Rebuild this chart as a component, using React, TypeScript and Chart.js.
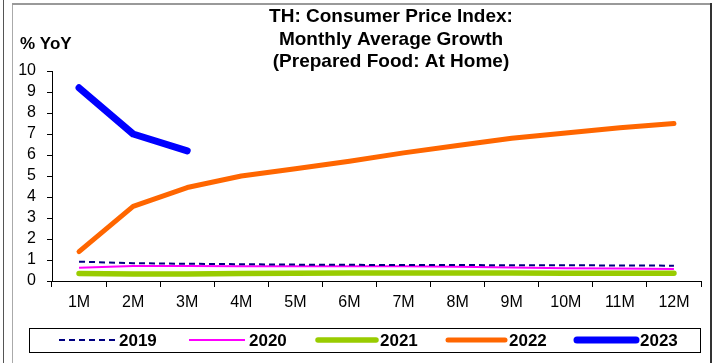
import React, { useEffect, useRef } from "react";
import { Chart, registerables } from "chart.js";

Chart.register(...registerables);

const categories = ["1M", "2M", "3M", "4M", "5M", "6M", "7M", "8M", "9M", "10M", "11M", "12M"];
const y2019 = [0.92, 0.85, 0.82, 0.8, 0.78, 0.77, 0.76, 0.76, 0.75, 0.75, 0.74, 0.73];
const y2020 = [0.63, 0.72, 0.72, 0.7, 0.7, 0.7, 0.7, 0.68, 0.64, 0.61, 0.59, 0.57];
const y2021 = [0.36, 0.33, 0.33, 0.36, 0.37, 0.38, 0.38, 0.38, 0.38, 0.37, 0.37, 0.37];
const y2022 = [1.4, 3.55, 4.45, 5.0, 5.35, 5.7, 6.1, 6.45, 6.8, 7.05, 7.3, 7.5];
const y2023 = [9.2, 7.0, 6.2];
const titleLines = ["TH: Consumer Price Index:", "Monthly Average Growth", "(Prepared Food: At Home)"];
const yAxisTitle = "% YoY";
const seriesNames = ["2019", "2020", "2021", "2022", "2023"];

const FONT = "'Liberation Sans', Arial, sans-serif";

const colors = ["#000080", "#FF00FF", "#99CC00", "#FF6600", "#0000FF"];
const widths = [2, 2, 5.5, 5, 7];
const dashes = [[6, 4], [], [], [], []];

const framePlugin = {
  id: "frame",
  beforeDraw(chart: any) {
    const ctx = chart.ctx;
    ctx.save();
    ctx.fillStyle = "#fff";
    ctx.fillRect(0, 0, chart.width, chart.height);
    ctx.lineWidth = 1;
    ctx.strokeStyle = "#555";
    ctx.beginPath();
    ctx.moveTo(3.5, 0);
    ctx.lineTo(3.5, 363);
    ctx.stroke();
    ctx.strokeStyle = "#aaa";
    ctx.beginPath();
    ctx.moveTo(12.5, 363);
    ctx.lineTo(12.5, 4);
    ctx.stroke();
    ctx.lineWidth = 2;
    ctx.strokeStyle = "#999";
    ctx.beginPath();
    ctx.moveTo(12, 4);
    ctx.lineTo(711, 4);
    ctx.stroke();
    ctx.strokeStyle = "#333";
    ctx.beginPath();
    ctx.moveTo(711, 3);
    ctx.lineTo(711, 363);
    ctx.stroke();

    // title
    ctx.fillStyle = "#000";
    ctx.textAlign = "center";
    ctx.textBaseline = "middle";
    ctx.font = `bold 19px ${FONT}`;
    titleLines.forEach((t, i) => ctx.fillText(t, 391, 17 + i * 22.5));
    ctx.textAlign = "left";
    ctx.font = `bold 17px ${FONT}`;
    ctx.fillText(yAxisTitle, 20, 44);

    // legend box
    ctx.lineWidth = 1;
    ctx.strokeStyle = "#000";
    ctx.strokeRect(29.5, 328.5, 671, 24);
    const xs = [[59, 115], [189, 245], [318, 376], [448, 505], [577, 636]];
    const ly = 340;
    seriesNames.forEach((n, i) => {
      ctx.save();
      ctx.strokeStyle = colors[i];
      ctx.lineWidth = widths[i];
      ctx.lineCap = i >= 2 ? "round" : "butt";
      ctx.setLineDash(dashes[i]);
      ctx.beginPath();
      ctx.moveTo(xs[i][0], ly);
      ctx.lineTo(xs[i][1], ly);
      ctx.stroke();
      ctx.restore();
      ctx.fillStyle = "#000";
      ctx.font = `bold 17px ${FONT}`;
      ctx.textAlign = "left";
      ctx.textBaseline = "middle";
      ctx.fillText(n, xs[i][1] + 4, ly + 1);
    });
    ctx.restore();
  },
};

export default function App() {
  const ref = useRef<HTMLCanvasElement>(null);
  useEffect(() => {
    if (!ref.current) return;
    const series = [y2019, y2020, y2021, y2022, y2023];
    const chart = new Chart(ref.current, {
      type: "line",
      data: {
        labels: categories,
        datasets: series.map((d, i) => ({
          label: seriesNames[i],
          data: d,
          borderColor: colors[i],
          backgroundColor: colors[i],
          borderWidth: widths[i],
          borderDash: dashes[i],
          borderCapStyle: i >= 2 ? "round" : "butt",
          borderJoinStyle: "round",
          pointRadius: 0,
          tension: 0,
          fill: false,
        })),
      },
      options: {
        responsive: false,
        animation: false,
        devicePixelRatio: 1,
        layout: { padding: { left: 0, right: 11, top: 71, bottom: 52 } },
        plugins: { legend: { display: false }, title: { display: false }, tooltip: { enabled: false } },
        scales: {
          x: {
            offset: true,
            grid: { offset: true, drawOnChartArea: false, drawTicks: true, tickLength: 6, color: "#000" },
            border: { color: "#000", width: 1 },
            ticks: { color: "#000", font: { family: FONT, size: 16 }, padding: 6, maxRotation: 0, autoSkip: false },
            afterFit: (s: any) => { s.height = 30; },
          },
          y: {
            min: 0,
            max: 10,
            grid: { drawOnChartArea: false, drawTicks: true, tickLength: 5, color: "#000" },
            border: { color: "#000", width: 1 },
            ticks: { stepSize: 1, autoSkip: false, color: "#000", font: { family: FONT, size: 16 }, padding: 11 },
            afterFit: (s: any) => { s.width = 52; },
          },
        },
      },
      plugins: [framePlugin],
    } as any);
    return () => chart.destroy();
  }, []);
  return (
    <div style={{ position: "absolute", left: 0, top: 0, width: 712, height: 363, background: "#fff" }}>
      <canvas ref={ref} width={712} height={363} style={{ display: "block" }} />
    </div>
  );
}
